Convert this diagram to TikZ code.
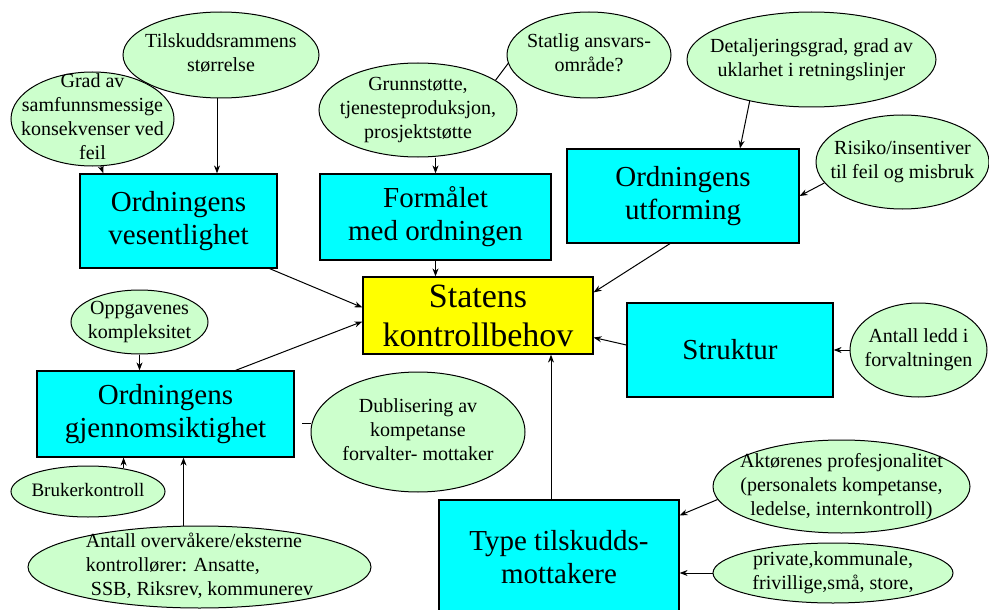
\documentclass[tikz,border=0pt]{standalone}
\usepackage{fontspec}
\setmainfont{Liberation Serif}
\usetikzlibrary{calc,arrows.meta,positioning,shapes.geometric}
\definecolor{boksfarge}{RGB}{0,255,255}
\definecolor{hovedfarge}{RGB}{255,255,0}
\definecolor{boblefarge}{RGB}{204,255,204}
% tekst i boblene: tar ingen plass, saa boblen faar den storrelsen vi gir den
\newcommand{\btekst}[2][c]{\smash{\raisebox{-.25em}{\makebox[0pt]{%
	\begin{tabular}{@{}#1@{}}#2\end{tabular}}}}}
\tikzset{
	>={Stealth[length=8pt,width=6pt]},
	punktboks/.style={
		rectangle,
		fill=boksfarge,
		draw=black, line width=1.2pt,
		inner sep=0pt,
		align=center,
		font=\fontsize{29}{33}\selectfont},
	hovedboks/.style={
		punktboks,
		fill=hovedfarge,
		font=\fontsize{34}{39}\selectfont},
	boble/.style={
		ellipse,
		fill=boblefarge,
		draw=black, line width=1pt,
		inner sep=0pt,
		font=\fontsize{20}{24}\selectfont},
	pil/.style={draw, line width=1pt, ->},
	linje/.style={draw, line width=1pt},
}

\begin{document}
\begin{tikzpicture}
[x=1pt, y=-1pt]
\useasboundingbox (0,0) rectangle (989,610);

% boksene
\node[hovedboks, minimum width=230, minimum height=77] (statens) at (478,315.5) {Statens\\kontrollbehov};
\node[punktboks, minimum width=197, minimum height=94] (vesentlighet) at (178.5,221) {Ordningens\\vesentlighet};
\node[punktboks, minimum width=231, minimum height=86] (formaal) at (435.5,217) {Formålet\\med ordningen};
\node[punktboks, minimum width=232, minimum height=94] (utforming) at (683,196) {Ordningens\\utforming};
\node[punktboks, minimum width=206, minimum height=94] (struktur) at (730,350) {Struktur};
\node[punktboks, minimum width=257, minimum height=86] (gjennom) at (165.5,414) {Ordningens\\gjennomsiktighet};
\node[punktboks, minimum width=240, minimum height=115] (type) at (559,557.5) {Type tilskudds-\\mottakere};

% boblene
\node[boble, minimum width=196, minimum height=86] (tilskudd) at (221,55) {\btekst{Tilskuddsrammens\\størrelse}};
\node[boble, minimum width=163, minimum height=94] (grad) at (92.5,119) {\btekst{Grad av\\samfunnsmessige\\konsekvenser ved\\feil}};
\node[boble, minimum width=198, minimum height=94] (grunn) at (418,110) {\btekst{Grunnstøtte,\\tjenesteproduksjon,\\prosjektstøtte}};
\node[boble, minimum width=164, minimum height=86] (statlig) at (589,55) {\btekst{Statlig ansvars-\\område?}};
\node[boble, minimum width=249, minimum height=95] (detalj) at (811.5,59.5) {\btekst{Detaljeringsgrad, grad av\\uklarhet i retningslinjer}};
\node[boble, minimum width=173, minimum height=94] (risiko) at (902.5,162) {\btekst{Risiko/insentiver\\til feil og misbruk}};
\node[boble, minimum width=137, minimum height=64] (oppg) at (139.5,322) {\btekst{Oppgavenes\\kompleksitet}};
\node[boble, minimum width=214, minimum height=120] (dubl) at (418,432) {\btekst{Dublisering av\\kompetanse\\forvalter- mottaker}};
\node[boble, minimum width=154, minimum height=51, font=\fontsize{19}{23}\selectfont] (bruker) at (88,491.5) {\btekst{Brukerkontroll}};
\node[boble, minimum width=343, minimum height=82] (antall) at (199.5,567) {\btekst[l]{Antall overvåkere/eksterne\\kontrollører: Ansatte,\\\hspace{.25em}SSB, Riksrev, kommunerev}};
\node[boble, minimum width=137, minimum height=94] (ledd) at (918.5,350) {\btekst{Antall ledd i\\forvaltningen}};
\node[boble, minimum width=257, minimum height=93] (aktor) at (841.5,486.5) {\btekst{Aktørenes profesjonalitet\\(personalets kompetanse,\\ledelse, internkontroll)}};
\node[boble, minimum width=240, minimum height=60] (privat) at (833,573) {\btekst{private,kommunale,\\frivillige,små, store,}};

% pilene
\draw[pil] (grad.-80) -- ([xshift=24pt]vesentlighet.north west);
\draw[pil] ([xshift=-4pt]tilskudd.south) -- ([xshift=-4pt]tilskudd.south |- vesentlighet.north);
\draw[pil] (grunn.south -| formaal.north) -- (formaal.north);
\draw[linje] (statlig.186) -- (grunn.21);
\draw[pil] (detalj.214) -- ([xshift=57pt]utforming.north);
\draw[pil] (risiko.195) -- (utforming.east);
\draw[pil] (formaal.south) -- (formaal.south |- statens.north);
\draw[pil] ([xshift=-8pt]vesentlighet.south east) -- ([yshift=8pt]statens.west);
\draw[pil] ([xshift=-13pt]utforming.south) -- ([yshift=-16pt]statens.north east);
\draw[pil] ([xshift=70pt]gjennom.north) -- ([yshift=-6pt]statens.west);
\draw[pil] ([yshift=5pt]struktur.west) -- ([yshift=-22pt]statens.east);
\draw[pil] (ledd.west) -- (struktur.east);
\draw[pil] ([xshift=-8pt]type.north) -- ([xshift=-8pt]type.north |- statens.south);
\draw[pil] (aktor.186) -- ([yshift=-16pt]type.north east);
\draw[pil] (privat.west) -- (privat.west -| type.east);
\draw[pil] (oppg.south) -- (oppg.south |- gjennom.north);
\draw[pil] (bruker.33) -- (bruker.33 |- gjennom.south);
\draw[pil] ([xshift=-16pt]antall.north) -- ([xshift=-16pt]antall.north |- gjennom.south);
\coordinate (stubb) at (302,423);
\draw[linje] (stubb) -- (stubb -| dubl.west);

\end{tikzpicture}
\end{document}
